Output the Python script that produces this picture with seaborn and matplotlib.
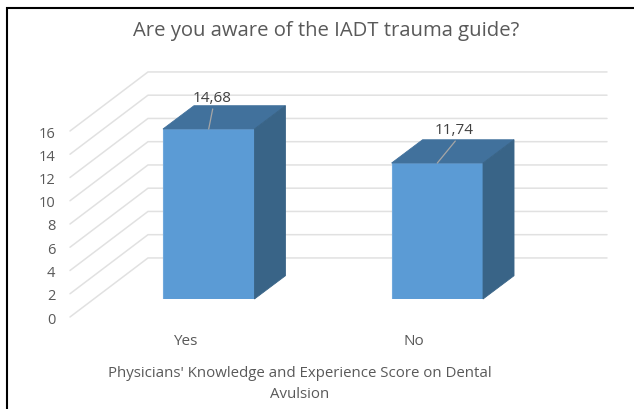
import matplotlib
matplotlib.use("Agg")
import matplotlib.pyplot as plt
import pandas as pd
import seaborn as sns
from matplotlib.patches import Polygon
from matplotlib.transforms import ScaledTranslation

categories = ["Yes", "No"]
scores = [14.68, 11.74]
score_labels = ["14,68", "11,74"]
y_ticks = [0, 2, 4, 6, 8, 10, 12, 14, 16]
title = "Are you aware of the IADT trauma guide?"
x_title = "Physicians' Knowledge and Experience Score on Dental\nAvulsion"

W, H = 634, 410
GRAY = "#595959"
sns.set_theme(style="white")
plt.rcParams["font.family"] = ["Open Sans", "DejaVu Sans"]
fig = plt.figure(figsize=(W / 100, H / 100), dpi=100, facecolor="white")


def rect(l, t, r, b):
    return [l / W, 1 - b / H, (r - l) / W, (b - t) / H]


# Wall: left-hand value axis and gridlines
wall = fig.add_axes(rect(70, 132, 607, 318))
wall.set_xlim(70, 607)
wall.set_ylim(0, 16)
wall.patch.set_alpha(0)
for s in wall.spines.values():
    s.set_visible(False)
wall.set_xticks([])
wall.set_yticks(y_ticks)
wall.tick_params(axis="y", length=0, pad=10.7, labelsize=10.5, labelcolor=GRAY)
BACK_X, BACK_DY = 148, 5.08
for v in y_ticks:
    wall.plot([70, BACK_X, 607], [v, v + BACK_DY, v + BACK_DY], color="#E1E1E1",
              lw=1.1, clip_on=False, zorder=1, solid_joinstyle="miter")

# Bars
ax = fig.add_axes(rect(94.4, 114.7, 551.6, 300))
ax.patch.set_alpha(0)
df = pd.DataFrame({"answer": categories, "score": scores})
sns.barplot(data=df, x="answer", y="score", color="#5B9BD5", saturation=1, width=0.4,
            ax=ax, zorder=3, edgecolor="#6FA8DC", linewidth=0.8)
ax.set_xlim(-0.5, 1.5)
ax.set_ylim(0, 16)
ax.set_xlabel("")
ax.set_ylabel("")
ax.set_yticks([])
for s in ax.spines.values():
    s.set_visible(False)
ax.tick_params(axis="x", length=0, pad=24.4, labelsize=11, labelcolor=GRAY)
# Category labels sit at the front of the floor, left of the bars
shift = ScaledTranslation(-23 / 100, 0, fig.dpi_scale_trans)
for t in ax.get_xticklabels():
    t.set_transform(t.get_transform() + shift)

DX, DY = 31 / 228.6, 2.01
for bar in ax.patches:
    x0, x1, h = bar.get_x(), bar.get_x() + bar.get_width(), bar.get_height()
    ax.add_patch(Polygon([(x0, h), (x1, h), (x1 + DX, h + DY), (x0 + DX, h + DY)],
                         closed=True, fc="#41719C", ec="#41719C", lw=0.6, zorder=3, clip_on=False))
    ax.add_patch(Polygon([(x1, 0), (x1 + DX, DY), (x1 + DX, h + DY), (x1, h)],
                         closed=True, fc="#396487", ec="#396487", lw=0.6, zorder=3, clip_on=False))

# Data labels with leader lines (pixel offsets from the bar's top centre)
offsets = [((4, 20), (3, 31)), ((18, 22), (17, 33.5))]
for bar, label, (line_end, text_pos) in zip(ax.patches, score_labels, offsets):
    cx, h = bar.get_x() + bar.get_width() / 2, bar.get_height()
    ax.annotate("", xy=(cx, h), xytext=line_end, textcoords="offset pixels",
                xycoords="data", zorder=5, annotation_clip=False,
                arrowprops=dict(arrowstyle="-", color="#A6A6A6", lw=0.9, shrinkA=0, shrinkB=0))
    ax.annotate(label, xy=(cx, h), xytext=text_pos, textcoords="offset pixels",
                ha="center", va="center", fontsize=11, color="#404040", zorder=6)

fig.text(326 / W, 1 - 31 / H, title, ha="center", va="center", fontsize=14.6, color=GRAY)
fig.text(300 / W, 1 - 384 / H, x_title, ha="center", va="center", fontsize=10.8,
         color=GRAY, linespacing=1.47)

# Screenshot frame: left and top edges only
fig.add_artist(plt.Line2D([7 / W, 7 / W], [0, 1 - 8 / H], color="black", lw=1.5,
                          solid_capstyle="butt"))
fig.add_artist(plt.Line2D([6 / W, 1], [1 - 9 / H, 1 - 9 / H], color="black", lw=1.5,
                          solid_capstyle="butt"))

fig.savefig("out.png", dpi=100)
